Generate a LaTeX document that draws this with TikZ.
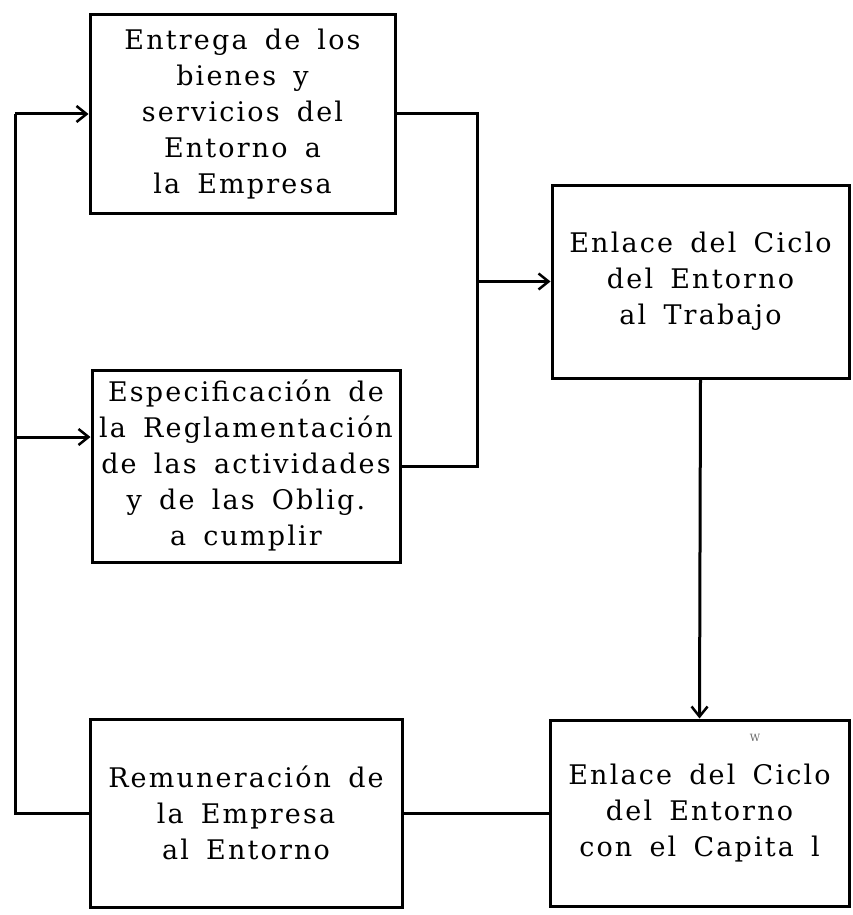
\documentclass[tikz,border=0pt]{standalone}
\usepackage{fontspec}
\setmainfont{DejaVu Serif}[LetterSpace=8,WordSpace=1.6]
\usetikzlibrary{arrows.meta}
\begin{document}
\begin{tikzpicture}[x=1pt,y=-1pt,
  box/.style={draw=black,line width=3pt,inner sep=0pt,align=center,
    font=\fontsize{27}{36}\selectfont},
  conn/.style={draw=black,line width=3pt},
  arr/.style={conn,-{Straight Barb[length=10pt,width=16pt,line width=2.5pt]}}]
\useasboundingbox (0,0) rectangle (853,915);
\node[box,minimum width=305pt,minimum height=198pt] (b1) at (242.5,114)
  {Entrega de los\\bienes y\\servicios del\\Entorno a\\la Empresa};
\node[box,minimum width=308pt,minimum height=192pt] (b2) at (246,466)
  {Especificación de\\la Reglamentación\\de las actividades\\y de las Oblig.\\a cumplir};
\node[box,minimum width=312pt,minimum height=188pt] (b3) at (246,813)
  {Remuneración de\\la Empresa\\al Entorno};
\node[box,minimum width=297pt,minimum height=193pt] (b4) at (700.5,281.5)
  {Enlace del Ciclo\\del Entorno\\al Trabajo};
\node[box,minimum width=299pt,minimum height=186pt] (b5) at (699.5,813)
  {Enlace del Ciclo\\del Entorno\\con el Capita l};
\node[font=\fontsize{10}{12}\selectfont,text=black!60] (w) at (755,738) {W};
% left return path
\coordinate (L1) at (15,114);
\coordinate (L2) at (15,437);
\coordinate (L3) at (15,813);
\draw[conn] (b3.west) -- (L3) -- (L1);
\draw[arr] (L1) -- (b1.west);
\draw[arr] (L2) -- (b2.west |- L2);
% right collector
\coordinate (R1) at (477,114);
\coordinate (R2) at (477,466);
\coordinate (RJ) at (477,281.5);
\draw[conn] (b1.east) -- (R1) -- (R2) -- (b2.east);
\draw[arr] (RJ) -- (b4.west);
% down to capital
\draw[arr] (b4.south) -- (b5.north);
% remuneration to capital
\draw[conn] (b3.east) -- (b5.west);
\end{tikzpicture}
\end{document}
